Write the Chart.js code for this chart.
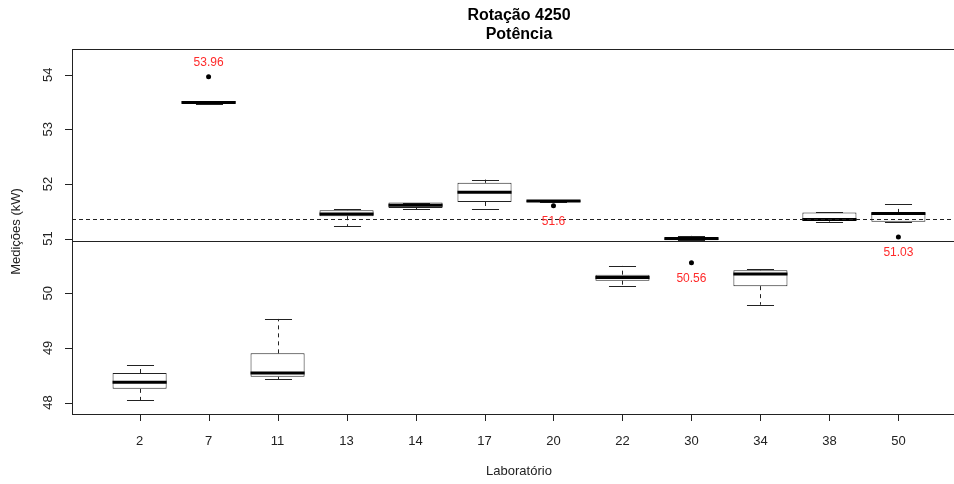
<!DOCTYPE html>
<html>
<head>
<meta charset="utf-8">
<script src="https://cdn.jsdelivr.net/npm/chart.js@4"></script>
<style>
  html, body { margin: 0; padding: 0; background: #fff; overflow: hidden; }
  #wrap { width: 954px; height: 484px; position: relative; overflow: hidden; }
  #myChart { position: absolute; left: 0; top: 0; }
</style>
</head>
<body>
<div id="wrap"><canvas id="myChart" width="980" height="484"></canvas></div>
<script>
'use strict';

// labs and the five numbers of every box
let labs = ['2', '7', '11', '13', '14', '17', '20', '22', '30', '34', '38', '50'];
let lowWhisker  = [48.04, 53.47, 48.43, 51.23, 51.54, 51.55, 51.67, 50.14, 50.97, 49.79, 51.31, 51.31];
let q1          = [48.25, 53.47, 48.47, 51.41, 51.56, 51.67, 51.67, 50.23, 50.97, 50.13, 51.33, 51.31];
let median      = [48.37, 53.49, 48.54, 51.45, 51.61, 51.85, 51.69, 50.29, 51.00, 50.35, 51.35, 51.46];
let q3          = [48.54, 53.52, 48.90, 51.52, 51.66, 52.02, 51.70, 50.34, 51.02, 50.42, 51.48, 51.47];
let highWhisker = [48.68, 53.52, 49.53, 51.54, 51.66, 52.08, 51.70, 50.50, 51.05, 50.44, 51.48, 51.63];

// outliers
let outLab = ['7', '20', '30', '50'];
let outVal = [53.96, 51.6, 50.56, 51.03];

// reference lines
let refSolid = 50.96;
let refDash = 51.35;

let yTicks = [48, 49, 50, 51, 52, 53, 54];

let boxes = [];
for (let i = 0; i < labs.length; i++) {
  boxes.push({ x: i + 1, y: [q1[i], q3[i]] });
}
let outPts = [];
for (let k = 0; k < outLab.length; k++) {
  outPts.push({ x: labs.indexOf(outLab[k]) + 1, y: outVal[k] });
}

const FONT = '"Liberation Sans", Arial, sans-serif';
const INK = '#222';

let boxPlugin = {
  id: 'boxPlugin',
  afterDatasetsDraw(chart) {
    let ctx = chart.ctx;
    let xs = chart.scales.x;
    let ys = chart.scales.y;
    let area = chart.chartArea;
    let bars = chart.getDatasetMeta(0).data;

    ctx.save();
    ctx.strokeStyle = INK;

    // whiskers and caps
    for (let i = 0; i < bars.length; i++) {
      let cx = Math.round(bars[i].x) + 0.5;
      let half = bars[i].width / 2;
      let yLo = ys.getPixelForValue(lowWhisker[i]);
      let yHi = ys.getPixelForValue(highWhisker[i]);
      let yQ1 = ys.getPixelForValue(q1[i]);
      let yQ3 = ys.getPixelForValue(q3[i]);

      ctx.lineWidth = 1;
      ctx.setLineDash([4, 4]);
      ctx.beginPath();
      if (yHi < yQ3 - 1) { ctx.moveTo(cx, yQ3); ctx.lineTo(cx, yHi); }
      if (yLo > yQ1 + 1) { ctx.moveTo(cx, yQ1); ctx.lineTo(cx, yLo); }
      ctx.stroke();

      ctx.setLineDash([]);
      ctx.beginPath();
      let yh = Math.round(yHi) + 0.5;
      let yl = Math.round(yLo) + 0.5;
      ctx.moveTo(cx - half / 2, yh); ctx.lineTo(cx + half / 2, yh);
      ctx.moveTo(cx - half / 2, yl); ctx.lineTo(cx + half / 2, yl);
      ctx.stroke();

      // median
      ctx.lineWidth = 3;
      ctx.strokeStyle = '#000';
      ctx.beginPath();
      let ym = ys.getPixelForValue(median[i]);
      ctx.moveTo(bars[i].x - half, ym);
      ctx.lineTo(bars[i].x + half, ym);
      ctx.stroke();
      ctx.strokeStyle = INK;
    }

    // reference lines
    ctx.lineWidth = 1;
    let yS = Math.round(ys.getPixelForValue(refSolid)) + 0.5;
    ctx.beginPath();
    ctx.moveTo(area.left, yS); ctx.lineTo(area.right, yS);
    ctx.stroke();
    let yD = Math.round(ys.getPixelForValue(refDash)) + 0.5;
    ctx.setLineDash([4, 3]);
    ctx.beginPath();
    ctx.moveTo(area.left, yD); ctx.lineTo(area.right, yD);
    ctx.stroke();
    ctx.setLineDash([]);

    // outlier labels
    ctx.fillStyle = '#ff2a2a';
    ctx.font = '12px ' + FONT;
    ctx.textAlign = 'center';
    ctx.textBaseline = 'middle';
    for (let k = 0; k < outVal.length; k++) {
      let px = xs.getPixelForValue(labs.indexOf(outLab[k]) + 1);
      let py = ys.getPixelForValue(outVal[k]);
      let dy = outVal[k] > 53 ? -14 : 16;
      ctx.fillText(String(outVal[k]), px, py + dy);
    }

    // frame
    ctx.strokeStyle = INK;
    ctx.lineWidth = 1;
    ctx.strokeRect(Math.round(area.left) + 0.5, Math.round(area.top) + 0.5,
      Math.round(area.right - area.left), Math.round(area.bottom - area.top));

    // tick marks and labels
    ctx.fillStyle = INK;
    ctx.font = '13px ' + FONT;
    ctx.beginPath();
    for (let t of yTicks) {
      let py = Math.round(ys.getPixelForValue(t)) + 0.5;
      ctx.moveTo(area.left - 7, py); ctx.lineTo(area.left, py);
    }
    for (let i = 0; i < labs.length; i++) {
      let px = Math.round(xs.getPixelForValue(i + 1)) + 0.5;
      ctx.moveTo(px, area.bottom); ctx.lineTo(px, area.bottom + 7);
    }
    ctx.stroke();

    for (let i = 0; i < labs.length; i++) {
      ctx.fillText(labs[i], xs.getPixelForValue(i + 1), 441);
    }
    for (let t of yTicks) {
      ctx.save();
      ctx.translate(48, ys.getPixelForValue(t));
      ctx.rotate(-Math.PI / 2);
      ctx.fillText(String(t), 0, 0);
      ctx.restore();
    }

    // axis titles
    let midX = (area.left + area.right) / 2;
    let midY = (area.top + area.bottom) / 2;
    ctx.fillText('Laboratório', midX, 471);
    ctx.save();
    ctx.translate(16, midY);
    ctx.rotate(-Math.PI / 2);
    ctx.fillText('Medições (kW)', 0, 0);
    ctx.restore();

    // main title
    ctx.fillStyle = '#000';
    ctx.font = 'bold 16px ' + FONT;
    ctx.fillText('Rotação 4250', midX, 16);
    ctx.fillText('Potência', midX, 35);

    ctx.restore();
  }
};

let ctx = document.getElementById('myChart').getContext('2d');
let myChart = new Chart(ctx, {
  data: {
    datasets: [{
      type: 'bar',
      data: boxes,
      backgroundColor: '#fff',
      borderColor: INK,
      borderWidth: 1,
      borderSkipped: false,
      barPercentage: 0.8,
      categoryPercentage: 1,
      grouped: false
    }, {
      type: 'scatter',
      data: outPts,
      pointRadius: 2.5,
      pointBackgroundColor: '#000',
      pointBorderWidth: 0
    }]
  },
  options: {
    responsive: false,
    devicePixelRatio: 1,
    animation: false,
    layout: { padding: { left: 72, right: 14, top: 49, bottom: 70 } },
    plugins: { legend: { display: false }, tooltip: { enabled: false } },
    scales: {
      x: { type: 'linear', min: 0.02, max: 12.98, offset: false, display: false },
      y: { type: 'linear', min: 47.79, max: 54.47, display: false }
    }
  },
  plugins: [boxPlugin]
});
</script>
</body>
</html>
